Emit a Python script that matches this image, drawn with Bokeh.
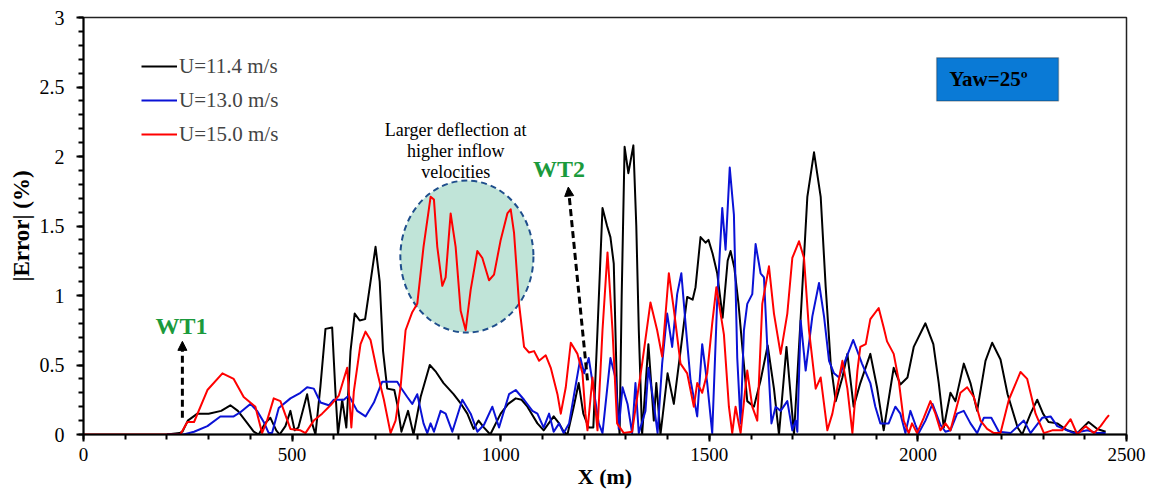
from bokeh.plotting import figure
from bokeh.models import (Legend, LegendItem, Label, BoxAnnotation, Arrow, NormalHead,
                          FixedTicker, Range1d)
from bokeh.embed import file_html
from bokeh.resources import INLINE

# ---------------- data ----------------
x_11 = [200, 230, 237, 250, 273, 300, 330, 352, 370, 388, 408, 420, 435, 448, 462, 470, 484, 496, 506, 515,
        536, 548, 556, 568, 580, 596, 604, 610, 620, 630, 640, 650, 662, 675, 688, 700, 710, 718, 728, 745,
        752, 762, 778, 791, 808, 830, 845, 863, 887, 905, 920, 935, 947, 960, 975, 1000, 1018, 1036, 1050,
        1064, 1088, 1103, 1127, 1140, 1151, 1160, 1175, 1187, 1198, 1211, 1222, 1232, 1244, 1255, 1263, 1271,
        1279, 1285, 1290, 1297, 1306, 1318, 1325, 1331, 1339, 1354, 1367, 1373, 1383, 1400, 1415, 1431, 1447,
        1460, 1467, 1479, 1491, 1498, 1508, 1519, 1532, 1544, 1551, 1560, 1570, 1580, 1591, 1607, 1623, 1640,
        1655, 1667, 1685, 1703, 1719, 1735, 1751, 1767, 1779, 1791, 1803, 1819, 1831, 1846, 1862, 1886, 1902,
        1918, 1942, 1958, 1975, 1990, 2018, 2037, 2050, 2062, 2078, 2090, 2110, 2126, 2142, 2162, 2178, 2198,
        2215, 2239, 2250, 2270, 2286, 2300, 2313, 2334, 2358, 2382, 2409, 2430, 2450]
y_11 = [0, 0.01, 0.02, 0.10, 0.15, 0.15, 0.17, 0.21, 0.17, 0.10, 0.02, 0, 0.08, 0.12, 0.03, 0, 0.06, 0.17, 0.03, 0.05,
        0.29, 0.08, 0, 0.35, 0.76, 0.77, 0.3, 0, 0.25, 0.05, 0.6, 0.87, 0.82, 0.83, 1.1, 1.35, 1.1, 0.6, 0.33, 0.32,
        0.22, 0.02, 0.17, 0, 0.27, 0.50, 0.45, 0.37, 0.29, 0.22, 0.15, 0.04, 0.10, 0.05, 0, 0.15, 0.22, 0.26, 0.25,
        0.2, 0.08, 0.03, 0.13, 0.08, 0.02, 0, 0.2, 0.37, 0.15, 0.05, 0.05, 0.75, 1.63, 1.5, 1.42, 1.23,
        0.27, 0, 1.0, 2.07, 1.88, 2.08, 1.5, 0.75, 0, 0.65, 0.1, 0.37, 0, 0.44, 0.22, 0.6, 0.99,
        0.97, 1.06, 1.42, 1.38, 1.40, 1.3, 1.16, 0.84, 1.25, 1.32, 1.2, 0.94, 0.6, 0.24, 0.2, 0.39, 0.64,
        0.33, 0, 0.63, 0, 0.84, 1.71, 2.03, 1.71, 1.06, 0.51, 0.24, 0.41, 0.58, 0.2, 0.37, 0.58, 0.34,
        0.03, 0.48, 0.36, 0.41, 0.63, 0.80, 0.65, 0.37, 0.05, 0.30, 0.24, 0.51, 0.37, 0.17, 0.53, 0.66, 0.54,
        0.29, 0.05, 0, 0.15, 0.25, 0.15, 0.09, 0.08, 0.03, 0.01, 0.09, 0.04, 0.02]

x_13 = [200, 240, 265, 297, 328, 360, 376, 400, 416, 432, 444, 452, 468, 496, 520, 536, 552, 568, 588, 600, 624,
        636, 656, 676, 696, 716, 752, 760, 776, 788, 800, 815, 824, 832, 840, 856, 868, 884, 908, 928, 944, 960,
        980, 996, 1020, 1036, 1056, 1076, 1088, 1103, 1116, 1127, 1140, 1151, 1164, 1176, 1191, 1200, 1211, 1223,
        1235, 1244, 1263, 1275, 1283, 1292, 1304, 1315, 1323, 1331, 1347, 1354, 1367, 1376, 1387, 1399, 1411,
        1423, 1433, 1443, 1455, 1471, 1483, 1495, 1507, 1519, 1531, 1539, 1549, 1559, 1567, 1575, 1583, 1591,
        1603, 1611, 1623, 1631, 1639, 1649, 1659, 1671, 1687, 1699, 1707, 1711, 1719, 1731, 1747, 1763, 1775,
        1787, 1799, 1811, 1823, 1845, 1866, 1886, 1898, 1910, 1930, 1946, 1958, 1970, 1982, 1994, 2002, 2018,
        2035, 2054, 2066, 2078, 2094, 2110, 2126, 2142, 2158, 2176, 2194, 2222, 2254, 2270, 2298, 2318, 2334,
        2358, 2374, 2406, 2430, 2450]
y_13 = [0, 0, 0.02, 0.06, 0.13, 0.13, 0.16, 0.22, 0.17, 0.09, 0.01, 0.01, 0.19, 0.26, 0.30, 0.34, 0.33, 0.23, 0.21, 0.25, 0.25,
        0.28, 0.17, 0.13, 0.23, 0.38, 0.38, 0.34, 0.27, 0.22, 0.29, 0.08, 0.01, 0.08, 0.02, 0.17, 0.15, 0.02, 0.25, 0.15, 0.02, 0.07,
        0.20, 0.05, 0.29, 0.32, 0.25, 0.17, 0.15, 0.05, 0.15, 0.02, 0.08, 0.01, 0.08, 0.29, 0.55, 0.44, 0.55, 0.32,
        0.08, 0.01, 0.55, 0.41, 0.04, 0.34, 0.22, 0.01, 0.37, 0.01, 0.17, 0.48, 0.22, 0.01, 0.51, 0.87, 0.63,
        1.01, 1.16, 0.8, 0.39, 0.13, 0.65, 0.37, 0.01, 0.97, 1.63, 1.33, 1.92, 1.58, 0.55, 0.08, 0.75, 0.94,
        1.01, 1.37, 1.16, 1.13, 0.63, 0.08, 0.2, 0.17, 0.24, 0.03, 0.1, 0.02, 0.82, 0.46, 0.85, 1.09, 0.85,
        0.53, 0.44, 0.41, 0.51, 0.68, 0.51, 0.37, 0.2, 0.08, 0.08, 0.2, 0.15, 0.01, 0.17, 0.07, 0.01, 0.1,
        0.22, 0.07, 0.02, 0.03, 0.15, 0.17, 0.08, 0.01, 0.12, 0.12, 0.02, 0.01, 0.1, 0.01, 0.12, 0.13, 0.06,
        0.03, 0.01, 0.03, 0.01, 0.01]

x_15 = [0, 232, 249, 265, 297, 333, 360, 384, 412, 428, 440, 456, 472, 496, 520, 532, 552, 572, 592, 612, 632, 642,
        648, 664, 676, 688, 704, 720, 736, 748, 760, 772, 788, 800, 815, 832, 840, 848, 860, 868, 880, 892, 904,
        916, 928, 944, 956, 972, 984, 1000, 1016, 1024, 1032, 1044, 1056, 1068, 1080, 1092, 1108, 1120, 1136,
        1144, 1156, 1168, 1184, 1196, 1203, 1208, 1220, 1232, 1244, 1256, 1268, 1279, 1295, 1315, 1339, 1359,
        1375, 1387, 1403, 1415, 1431, 1447, 1463, 1471, 1483, 1495, 1507, 1517, 1535, 1547, 1555, 1563, 1575,
        1591, 1603, 1615, 1627, 1643, 1655, 1671, 1687, 1699, 1715, 1727, 1739, 1755, 1767, 1783, 1795, 1807,
        1819, 1831, 1843, 1855, 1862, 1875, 1886, 1906, 1918, 1926, 1942, 1954, 1966, 1978, 1986, 1998, 2014,
        2030, 2042, 2054, 2066, 2078, 2102, 2118, 2134, 2150, 2166, 2182, 2198, 2218, 2246, 2262, 2282, 2302,
        2322, 2346, 2366, 2382, 2402, 2422, 2438, 2450, 2458]
y_15 = [0, 0, 0.09, 0.09, 0.32, 0.44, 0.40, 0.27, 0.2, 0.01, 0.1, 0.26, 0.24, 0.04, 0.03, 0.01, 0.1, 0.15, 0.21, 0.28, 0.48, 0.05,
        0.31, 0.65, 0.74, 0.68, 0.45, 0.25, 0.01, 0.1, 0.34, 0.75, 0.88, 0.94, 1.35, 1.71, 1.69, 1.35, 1.07, 1.13, 1.59, 1.35, 0.89,
        0.75, 1.04, 1.32, 1.27, 1.11, 1.15, 1.40, 1.59, 1.62, 1.45, 0.94, 0.63, 0.59, 0.60, 0.53, 0.57, 0.48, 0.29,
        0.15, 0.34, 0.66, 0.58, 0.44, 0.15, 0.03, 0.41, 0.03, 0.75, 1.31, 0.75, 0.08, 0.01, 0.02, 0.51, 0.95,
        0.75, 0.56, 1.16, 0.90, 0.51, 0.44, 0.2, 0.37, 0.3, 0.44, 0.8, 1.06, 0.72, 0.2, 0.01, 0.2, 0.01,
        0.46, 0.2, 0.1, 0.94, 1.21, 0.87, 0.58, 0.87, 1.27, 1.39, 1.27, 0.75, 0.33, 0.41, 0.03, 0.15, 0.34,
        0.53, 0.33, 0.01, 0.46, 0.63, 0.65, 0.83, 0.91, 0.77, 0.67, 0.58, 0.39, 0.1, 0.01, 0.08, 0.01, 0.12,
        0.24, 0.15, 0.03, 0.08, 0.03, 0.30, 0.34, 0.27, 0.1, 0.04, 0.01, 0.01, 0.25, 0.45, 0.40, 0.15, 0.01,
        0.03, 0.03, 0.11, 0, 0.06, 0.01, 0.06, 0.11, 0.14]

series_labels = ["U=11.4 m/s", "U=13.0 m/s", "U=15.0 m/s"]
series_colors = ["#000000", "#0a12d6", "#ff0000"]

x_ticks = [0, 500, 1000, 1500, 2000, 2500]
y_ticks = [0, 0.5, 1, 1.5, 2, 2.5, 3]

SERIF = "Liberation Serif"

# ---------------- figure ----------------
p = figure(width=1151, height=493, output_backend="svg", toolbar_location=None,
           x_range=Range1d(0, 2500), y_range=Range1d(0, 3),
           min_border_left=83, min_border_right=25, min_border_top=17, min_border_bottom=59)
p.grid.visible = False
p.outline_line_color = "#222222"
p.outline_line_width = 1.5
p.background_fill_color = "white"
p.border_fill_color = "white"

for ax in (p.xaxis[0], p.yaxis[0]):
    ax.axis_line_color = "black"
    ax.axis_line_width = 2
    ax.major_tick_line_color = "black"
    ax.minor_tick_line_color = "black"
    ax.major_tick_line_width = 2
    ax.minor_tick_line_width = 2
    ax.major_tick_out = 7
    ax.major_tick_in = 0
    ax.minor_tick_out = 5
    ax.minor_tick_in = 0
    ax.major_label_text_font = SERIF
    ax.major_label_text_font_size = "20px"
    ax.major_label_text_color = "black"
    ax.axis_label_text_font = SERIF
    ax.axis_label_text_font_style = "bold"
    ax.axis_label_text_color = "black"

p.xaxis.ticker = FixedTicker(ticks=x_ticks, minor_ticks=list(range(0, 2501, 100)))
p.yaxis.ticker = FixedTicker(ticks=y_ticks, minor_ticks=[i / 10 for i in range(0, 31)])
p.yaxis.major_label_overrides = {0: "0", 0.5: "0.5", 1: "1", 1.5: "1.5", 2: "2", 2.5: "2.5", 3: "3"}
p.yaxis.axis_label = "|Error| (%)"
p.yaxis.axis_label_text_font_size = "23px"
p.yaxis.axis_label_standoff = 3
p.yaxis.major_label_standoff = 12

p.xaxis.axis_label = "X (m)"
p.xaxis.axis_label_text_font_size = "22px"
p.xaxis.axis_label_standoff = 0
p.xaxis.major_label_standoff = 6
p.xaxis.major_label_text_font_size = "19px"

# ---------------- highlighted circle ----------------
p.ellipse(x=[919], y=[1.28], width=[319], height=[1.094], fill_color="#c0e4d8",
          line_color="#1f4e8c", line_width=2, line_dash="6 4")

# ---------------- lines ----------------
r11 = p.line(x_11, y_11, line_color=series_colors[0], line_width=2, line_join="round")
r13 = p.line(x_13, y_13, line_color=series_colors[1], line_width=2, line_join="round")
r15 = p.line(x_15, y_15, line_color=series_colors[2], line_width=2, line_join="round")

legend = Legend(items=[LegendItem(label=series_labels[0], renderers=[r11]),
                       LegendItem(label=series_labels[1], renderers=[r13]),
                       LegendItem(label=series_labels[2], renderers=[r15])],
                location=(58, 287), orientation="vertical",
                glyph_width=36, glyph_height=26, label_height=26, spacing=8,
                padding=0, margin=0, label_standoff=2,
                label_text_font=SERIF, label_text_font_size="21px",
                border_line_color=None, background_fill_alpha=0)
p.add_layout(legend)

# ---------------- annotations ----------------
p.add_layout(BoxAnnotation(left=2045, right=2337, bottom=2.40, top=2.71,
                           fill_color="#0a7ad6", fill_alpha=1, line_color="#1a1a1a", line_width=1.5))
p.add_layout(Label(x=2075, y=2.555, text="Yaw=25º", text_font=SERIF, text_font_style="bold",
                   text_font_size="21px", text_color="black", text_baseline="middle"))

for txt, yy in zip(["Larger deflection at", "higher inflow", "velocities"], [2.19, 2.04, 1.89]):
    p.add_layout(Label(x=892, y=yy, text=txt, text_font=SERIF, text_font_size="18px",
                       text_color="black", text_align="center", text_baseline="middle"))

green = "#1b9a3c"
p.add_layout(Label(x=235, y=0.78, text="WT1", text_font=SERIF, text_font_style="bold",
                   text_font_size="24px", text_color=green, text_align="center", text_baseline="middle"))
p.add_layout(Label(x=1140, y=1.91, text="WT2", text_font=SERIF, text_font_style="bold",
                   text_font_size="24px", text_color=green, text_align="center", text_baseline="middle"))

p.add_layout(Arrow(x_start=237, y_start=0.12, x_end=237, y_end=0.67, line_width=3, line_dash="7 4",
                   line_color="black",
                   end=NormalHead(size=9, fill_color="black", line_color="black")))
p.add_layout(Arrow(x_start=1208, y_start=0.39, x_end=1162, y_end=1.78, line_width=3, line_dash="7 4",
                   line_color="black",
                   end=NormalHead(size=9, fill_color="black", line_color="black")))

open("out.html", "w").write(file_html(p, INLINE))
